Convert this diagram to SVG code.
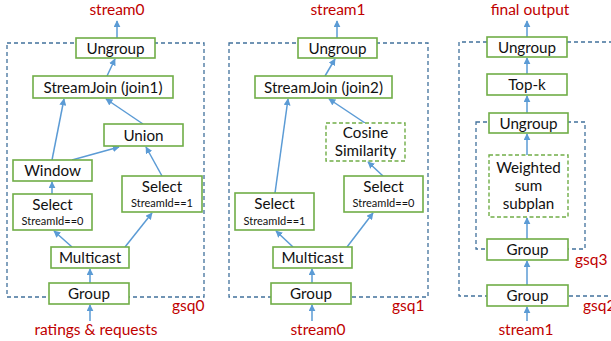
<svg xmlns="http://www.w3.org/2000/svg" width="611" height="341" viewBox="0 0 611 341">
<defs>
<marker id="ah" viewBox="0 0 10 10" refX="9" refY="5" markerWidth="7" markerHeight="7" markerUnits="userSpaceOnUse" orient="auto">
<path d="M0,0 L10,5 L0,10 z" fill="#5B9BD5"/>
</marker>
<style>
.box{fill:#fff;stroke:#70AD47;stroke-width:1.6}
.dbox{fill:#fff;stroke:#70AD47;stroke-width:1.4;stroke-dasharray:4 2.5}
.grp{fill:none;stroke:#41719C;stroke-width:1.3;stroke-dasharray:4 3}
.t{font-family:Lato,"Liberation Sans",sans-serif;font-size:15.2px;fill:#111;text-anchor:middle}
.s{font-family:Lato,"Liberation Sans",sans-serif;font-size:11px;fill:#111;text-anchor:middle}
.r{font-family:Lato,"Liberation Sans",sans-serif;font-size:15.5px;fill:#C00000;text-anchor:middle}
.rl{font-family:Lato,"Liberation Sans",sans-serif;font-size:15.5px;fill:#C00000}
.c{stroke:#5B9BD5;stroke-width:1.5;fill:none;marker-end:url(#ah)}
</style>
</defs>

<g id="groups">
<rect class="grp" x="7" y="43" width="197" height="254"/>
<rect class="grp" x="229" y="43" width="199" height="254"/>
<path class="grp" d="M620,42 H459 V296 H620"/>
<rect class="grp" x="476" y="122" width="109" height="127"/>
</g>

<g id="connectors">
<line class="c" x1="117" y1="38" x2="117" y2="21"/>
<line class="c" x1="107" y1="76" x2="115" y2="59"/>
<line class="c" x1="52" y1="160" x2="64" y2="99"/>
<line class="c" x1="143" y1="124" x2="106" y2="99"/>
<line class="c" x1="72" y1="160" x2="119" y2="147"/>
<line class="c" x1="162" y1="176" x2="146" y2="147"/>
<line class="c" x1="52" y1="194" x2="52" y2="182"/>
<line class="c" x1="72" y1="247" x2="54" y2="231"/>
<line class="c" x1="125" y1="247" x2="152" y2="213"/>
<line class="c" x1="90" y1="283" x2="90" y2="269"/>
<line class="c" x1="90" y1="321" x2="90" y2="305"/>

<line class="c" x1="337" y1="38" x2="337" y2="21"/>
<line class="c" x1="325" y1="76" x2="335" y2="59"/>
<line class="c" x1="275" y1="193" x2="288" y2="99"/>
<line class="c" x1="365" y1="123" x2="329" y2="99"/>
<line class="c" x1="383" y1="176" x2="368" y2="162"/>
<line class="c" x1="293" y1="247" x2="276" y2="231"/>
<line class="c" x1="347" y1="247" x2="373" y2="213"/>
<line class="c" x1="312" y1="283" x2="312" y2="269"/>
<line class="c" x1="312" y1="321" x2="312" y2="305"/>

<line class="c" x1="527" y1="37" x2="527" y2="21"/>
<line class="c" x1="527" y1="74" x2="527" y2="58"/>
<line class="c" x1="527" y1="113" x2="527" y2="96"/>
<line class="c" x1="527" y1="155" x2="527" y2="134"/>
<line class="c" x1="527" y1="239" x2="527" y2="218"/>
<line class="c" x1="527" y1="285" x2="527" y2="261"/>
<line class="c" x1="527" y1="321" x2="527" y2="307"/>
</g>

<g id="p0-ungroup"><rect class="box" x="76" y="38" width="79" height="20"/><text class="t" x="115.5" y="53.5">Ungroup</text></g>
<g id="p0-join"><rect class="box" x="33" y="76" width="140" height="22"/><text class="t" x="103" y="92.5">StreamJoin (join1)</text></g>
<g id="p0-union"><rect class="box" x="104" y="124" width="79" height="22"/><text class="t" x="143.5" y="140.5">Union</text></g>
<g id="p0-window"><rect class="box" x="13" y="160" width="79" height="21"/><text class="t" x="52.5" y="176">Window</text></g>
<g id="p0-select0"><rect class="box" x="13" y="194" width="79" height="36"/><text class="t" x="52.5" y="210">Select</text><text class="s" x="52.5" y="225">StreamId==0</text></g>
<g id="p0-select1"><rect class="box" x="122" y="176" width="80" height="36"/><text class="t" x="162" y="192">Select</text><text class="s" x="162" y="207">StreamId==1</text></g>
<g id="p0-multicast"><rect class="box" x="51" y="247" width="78" height="21"/><text class="t" x="90" y="263">Multicast</text></g>
<g id="p0-group"><rect class="box" x="49" y="283" width="80" height="21"/><text class="t" x="89" y="299">Group</text></g>
<g id="p0-labels"><text class="r" x="117" y="15">stream0</text><text class="rl" x="172" y="311">gsq0</text><text class="r" x="96" y="335">ratings &amp; requests</text></g>

<g id="p1-ungroup"><rect class="box" x="298" y="38" width="79" height="20"/><text class="t" x="337.5" y="53.5">Ungroup</text></g>
<g id="p1-join"><rect class="box" x="255" y="76" width="137" height="22"/><text class="t" x="323.5" y="92.5">StreamJoin (join2)</text></g>
<g id="p1-cosine"><rect class="dbox" x="326" y="123" width="79" height="38"/><text class="t" x="365.5" y="138">Cosine</text><text class="t" x="365.5" y="156">Similarity</text></g>
<g id="p1-select1"><rect class="box" x="235" y="193" width="79" height="37"/><text class="t" x="274.5" y="209">Select</text><text class="s" x="274.5" y="224.5">StreamId==1</text></g>
<g id="p1-select0"><rect class="box" x="344" y="176" width="79" height="36"/><text class="t" x="383.5" y="192">Select</text><text class="s" x="383.5" y="207">StreamId==0</text></g>
<g id="p1-multicast"><rect class="box" x="273" y="247" width="79" height="21"/><text class="t" x="312.5" y="263">Multicast</text></g>
<g id="p1-group"><rect class="box" x="271" y="283" width="80" height="21"/><text class="t" x="311" y="299">Group</text></g>
<g id="p1-labels"><text class="r" x="338" y="15">stream1</text><text class="rl" x="392" y="311">gsq1</text><text class="r" x="318" y="335">stream0</text></g>

<g id="p2-ungroup-top"><rect class="box" x="487" y="37" width="80" height="20"/><text class="t" x="527" y="52.5">Ungroup</text></g>
<g id="p2-topk"><rect class="box" x="487" y="74" width="80" height="21"/><text class="t" x="527" y="90">Top-k</text></g>
<g id="p2-ungroup"><rect class="box" x="489" y="113" width="79" height="20"/><text class="t" x="528.5" y="128.5">Ungroup</text></g>
<g id="p2-wsum"><rect class="dbox" x="489" y="155" width="79" height="62"/><text class="t" x="528.5" y="173">Weighted</text><text class="t" x="528.5" y="191">sum</text><text class="t" x="528.5" y="209">subplan</text></g>
<g id="p2-group-inner"><rect class="box" x="487" y="239" width="81" height="21"/><text class="t" x="527.5" y="255">Group</text></g>
<g id="p2-group-outer"><rect class="box" x="487" y="285" width="81" height="21"/><text class="t" x="527.5" y="301">Group</text></g>
<g id="p2-labels"><text class="r" x="530" y="15">final output</text><text class="rl" x="575" y="265">gsq3</text><text class="rl" x="583" y="311">gsq2</text><text class="r" x="526" y="335">stream1</text></g>
</svg>
